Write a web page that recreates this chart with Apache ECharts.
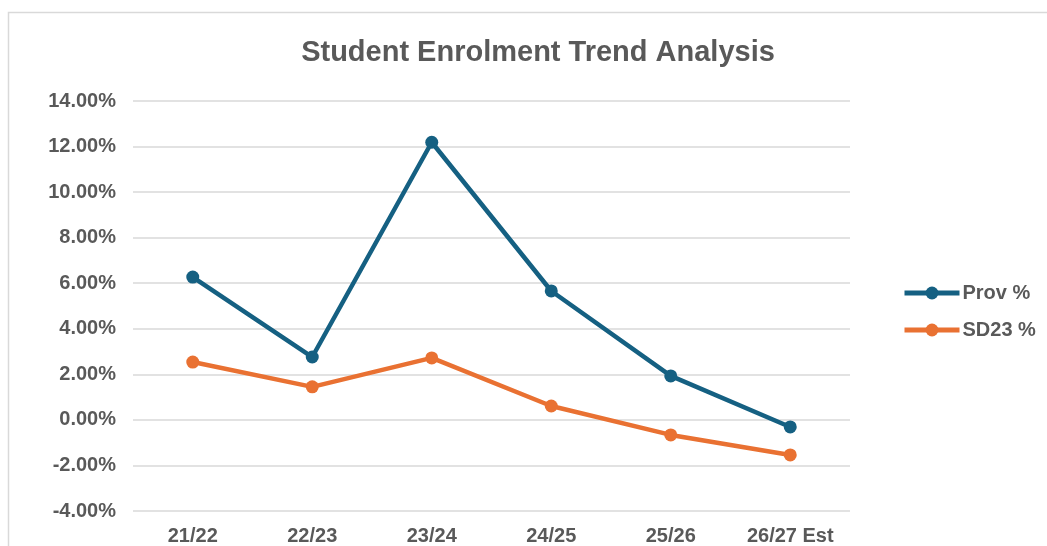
<!DOCTYPE html>
<html>
<head>
<meta charset="utf-8">
<title>Student Enrolment Trend Analysis</title>
<script src="https://cdn.jsdelivr.net/npm/echarts@6/dist/echarts.min.js"></script>
<style>
    html, body { margin: 0; padding: 0; background: #fff; }
    #chart { width: 1047px; height: 546px; }
</style>
</head>
<body>
<div id="chart"></div>
<script>
// academic years on the x axis
const years = ['21/22', '22/23', '23/24', '24/25', '25/26', '26/27 Est'];
// percentage change per year
const provPct = [6.27, 2.76, 12.19, 5.66, 1.93, -0.31];
const sd23Pct = [2.54, 1.45, 2.72, 0.61, -0.66, -1.54];

const chart = echarts.init(document.getElementById('chart'));

const labelFont = {
    color: '#595959',
    fontFamily: 'Liberation Sans, Arial, sans-serif',
    fontWeight: 'bold',
    fontSize: 20
};

function lineSeries(name, data, color) {
    return {
        name: name,
        type: 'line',
        data: data,
        symbol: 'circle',
        symbolSize: 13,
        lineStyle: { color: color, width: 4.5 },
        itemStyle: { color: color },
        emphasis: { disabled: true }
    };
}

const option = {
    animation: false,
    graphic: [{
        type: 'rect',
        shape: { x: 8.5, y: 12.5, width: 1100, height: 600 },
        style: { fill: 'none', stroke: '#d9d9d9', lineWidth: 1.5 },
        silent: true
    }],
    title: {
        text: 'Student Enrolment Trend Analysis',
        left: 533,
        textAlign: 'center',
        top: 33,
        textStyle: {
            color: '#595959',
            fontFamily: 'Liberation Sans, Arial, sans-serif',
            fontWeight: 'bold',
            fontSize: 29
        }
    },
    legend: {
        orient: 'vertical',
        left: 897,
        top: 278,
        itemWidth: 55,
        itemHeight: 16,
        itemGap: 17,
        lineStyle: { width: 5 },
        textStyle: Object.assign({}, labelFont, { padding: [0, 0, 0, -2] }),
        data: ['Prov %', 'SD23 %']
    },
    grid: {
        left: 133,
        right: 197,
        top: 101,
        bottom: 35
    },
    xAxis: {
        type: 'category',
        data: years,
        boundaryGap: true,
        axisLine: { show: false },
        axisTick: { show: false },
        axisLabel: Object.assign({}, labelFont, { margin: 15 })
    },
    yAxis: {
        type: 'value',
        min: -4,
        max: 14,
        interval: 2,
        axisLine: { show: false },
        axisTick: { show: false },
        splitLine: { lineStyle: { color: '#d9d9d9', width: 1.5 } },
        axisLabel: Object.assign({}, labelFont, {
            margin: 17,
            formatter: v => v.toFixed(2) + '%'
        })
    },
    series: [
        lineSeries('Prov %', provPct, '#156082'),
        lineSeries('SD23 %', sd23Pct, '#e97132')
    ]
};

chart.setOption(option);
</script>
</body>
</html>
